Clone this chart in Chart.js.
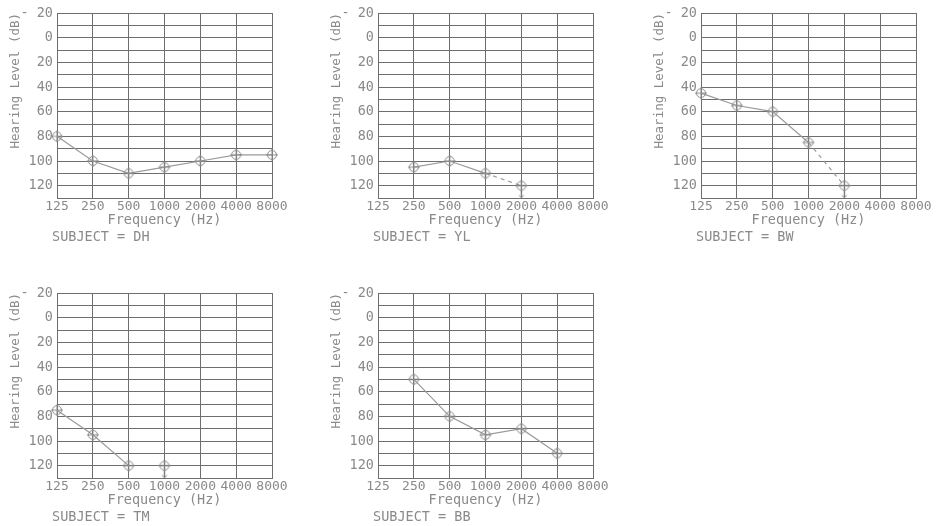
<!DOCTYPE html>
<html>
<head>
<meta charset="utf-8">
<title>Audiograms</title>
<script src="https://cdn.jsdelivr.net/npm/chart.js@4.4.1/dist/chart.umd.min.js"></script>
<style>
  html, body { margin: 0; padding: 0; background: #fff; overflow: hidden; }
  body { width: 940px; height: 526px; position: relative; }
  .panel { position: absolute; width: 300px; height: 250px; }
</style>
</head>
<body>
<div class="panel" style="left:0px;top:0px"><canvas id="chart-dh" width="300" height="250"></canvas></div>
<div class="panel" style="left:321px;top:0px"><canvas id="chart-yl" width="300" height="250"></canvas></div>
<div class="panel" style="left:644px;top:0px"><canvas id="chart-bw" width="300" height="250"></canvas></div>
<div class="panel" style="left:0px;top:280px"><canvas id="chart-tm" width="300" height="250"></canvas></div>
<div class="panel" style="left:321px;top:280px"><canvas id="chart-bb" width="300" height="250"></canvas></div>
<script>
// frequencies (Hz) on the x axis, hearing level (dB) on the y axis
const freqs = ['125', '250', '500', '1000', '2000', '4000', '8000'];
const levelLabels = [-20, 0, 20, 40, 60, 80, 100, 120];
const levelMin = -20;
const levelMax = 130;

// thresholds per subject, null where not tested
const dh = [80, 100, 110, 105, 100, 95, 95];
const yl = [null, 105, 100, 110, 120, null, null];
const bw = [45, 55, 60, 85, 120, null, null];
const tm = [75, 95, 120, 120, null, null, null];
const bb = [null, 50, 80, 95, 90, 110, null];

// indices of frequencies with no response at the audiometer limit
const dhNoResp = [];
const ylNoResp = [4];
const bwNoResp = [4];
const tmNoResp = [3];
const bbNoResp = [];

const FONT = '"DejaVu Sans Mono", "Liberation Mono", monospace';
const TEXT = '#8a8a8a';
const GRID = '#6e6e6e';
const LINE = '#9a9a9a';

// circle with a plus through it; the no-response version has an arrow under it
function makeMarker(arrow) {
  const c = document.createElement('canvas');
  c.width = 16; c.height = 32;
  const g = c.getContext('2d');
  g.strokeStyle = '#8a8a8a';
  g.lineWidth = 1;
  g.beginPath(); g.arc(8, 16, 4.5, 0, Math.PI * 2); g.stroke();
  g.beginPath();
  g.moveTo(2, 16); g.lineTo(14, 16);
  g.moveTo(8, 10); g.lineTo(8, 22);
  g.stroke();
  if (arrow) {
    g.beginPath();
    g.moveTo(8, 21); g.lineTo(8, 28);
    g.moveTo(5.5, 25.5); g.lineTo(8, 28); g.lineTo(10.5, 25.5);
    g.stroke();
  }
  return c;
}
const marker = makeMarker(false);
const markerNoResp = makeMarker(true);

// subject caption under the axis and the rotated level title
const panelText = {
  id: 'panelText',
  afterDraw(chart, args, opts) {
    const { ctx, chartArea } = chart;
    ctx.save();
    ctx.fillStyle = TEXT;
    ctx.textBaseline = 'middle';
    ctx.textAlign = 'left';
    ctx.font = '13.5px ' + FONT;
    ctx.fillText(opts.subject, chartArea.left - 5, chartArea.bottom + 39);
    ctx.translate(16, chartArea.top);
    ctx.rotate(-Math.PI / 2);
    ctx.textAlign = 'right';
    ctx.font = '12.5px ' + FONT;
    ctx.fillText(opts.levelTitle, 0, 0);
    ctx.restore();
  }
};

function audiogram(id, subject, levels, noResp) {
  const ctx = document.getElementById(id).getContext('2d');
  return new Chart(ctx, {
    type: 'line',
    data: {
      labels: freqs,
      datasets: [{
        label: subject,
        data: levels,
        borderColor: LINE,
        borderWidth: 1.2,
        spanGaps: false,
        tension: 0,
        pointStyle: c => noResp.includes(c.dataIndex) ? markerNoResp : marker,
        pointRadius: 5,
        segment: {
          // dashed into a no-response point, nothing drawn along the limit
          borderDash: c => noResp.includes(c.p1DataIndex) ? [4, 4] : undefined,
          borderColor: c => (noResp.includes(c.p1DataIndex) &&
            levels[c.p0DataIndex] === levels[c.p1DataIndex]) ? 'rgba(0,0,0,0)' : undefined
        }
      }]
    },
    options: {
      responsive: false,
      animation: false,
      layout: { padding: { left: 0, top: 13, right: 28, bottom: 0 } },
      plugins: {
        legend: { display: false },
        tooltip: { enabled: false },
        panelText: { subject: 'SUBJECT = ' + subject, levelTitle: 'Hearing Level (dB)' }
      },
      scales: {
        x: {
          type: 'category',
          offset: false,
          afterFit: s => { s.height = 52; },
          grid: { color: GRID, lineWidth: 1, drawTicks: false },
          border: { color: GRID },
          ticks: {
            color: TEXT, padding: 1, maxRotation: 0, autoSkip: false,
            font: { family: FONT, size: 13 }
          },
          title: {
            display: true, text: 'Frequency (Hz)', color: TEXT,
            font: { family: FONT, size: 13.5 },
            padding: { top: 0, bottom: 21 }
          }
        },
        y: {
          reverse: true,
          min: levelMin,
          max: levelMax,
          afterFit: s => { s.width = 57; },
          grid: { color: GRID, lineWidth: 1, drawTicks: false },
          border: { color: GRID },
          ticks: {
            stepSize: 10, autoSkip: false, color: TEXT, padding: 4,
            font: { family: FONT, size: 13.5 },
            callback: v => levelLabels.includes(v) ? (v < 0 ? '- ' + Math.abs(v) : String(v)) : ''
          }
        }
      }
    },
    plugins: [panelText]
  });
}

audiogram('chart-dh', 'DH', dh, dhNoResp);
audiogram('chart-yl', 'YL', yl, ylNoResp);
audiogram('chart-bw', 'BW', bw, bwNoResp);
audiogram('chart-tm', 'TM', tm, tmNoResp);
audiogram('chart-bb', 'BB', bb, bbNoResp);
</script>
</body>
</html>
